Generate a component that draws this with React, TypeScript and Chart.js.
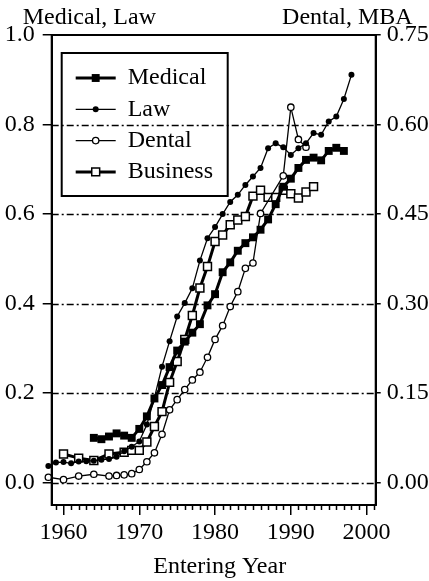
import { useEffect, useRef } from 'react';
import { Chart, registerables } from 'chart.js';

Chart.register(...registerables);

const FONT = "'Liberation Serif', 'Times New Roman', Times, serif";
const FS = 24;

const seriesNames = ['Medical', 'Law', 'Dental', 'Business'];

const medicalYears = [1964, 1965, 1966, 1967, 1968, 1969, 1970, 1971, 1972, 1973, 1974, 1975, 1976, 1977, 1978, 1979, 1980, 1981, 1982, 1983, 1984, 1985, 1986, 1987, 1988, 1989, 1990, 1991, 1992, 1993, 1994, 1995, 1996, 1997];
const medicalShare = [0.10, 0.097, 0.103, 0.11, 0.105, 0.10, 0.12, 0.148, 0.188, 0.218, 0.258, 0.295, 0.315, 0.335, 0.354, 0.396, 0.421, 0.47, 0.492, 0.518, 0.535, 0.548, 0.565, 0.588, 0.622, 0.661, 0.679, 0.703, 0.721, 0.726, 0.72, 0.741, 0.748, 0.741];

const lawYears = [1958, 1959, 1960, 1961, 1962, 1963, 1964, 1965, 1966, 1967, 1968, 1969, 1970, 1971, 1972, 1973, 1974, 1975, 1976, 1977, 1978, 1979, 1980, 1981, 1982, 1983, 1984, 1985, 1986, 1987, 1988, 1989, 1990, 1991, 1992, 1993, 1994, 1995, 1996, 1997, 1998];
const lawShare = [0.037, 0.045, 0.046, 0.043, 0.047, 0.048, 0.049, 0.051, 0.053, 0.058, 0.07, 0.08, 0.092, 0.13, 0.19, 0.259, 0.316, 0.371, 0.401, 0.434, 0.496, 0.546, 0.571, 0.6, 0.627, 0.643, 0.665, 0.684, 0.703, 0.747, 0.758, 0.749, 0.732, 0.747, 0.758, 0.781, 0.777, 0.807, 0.818, 0.857, 0.911];

const dentalYears = [1958, 1960, 1962, 1964, 1966, 1967, 1968, 1969, 1970, 1971, 1972, 1973, 1974, 1975, 1976, 1977, 1978, 1979, 1980, 1981, 1982, 1983, 1984, 1985, 1986, 1989, 1990, 1991, 1992];
const dentalShare = [0.009, 0.005, 0.011, 0.014, 0.011, 0.012, 0.013, 0.015, 0.022, 0.035, 0.05, 0.081, 0.122, 0.139, 0.156, 0.172, 0.185, 0.21, 0.24, 0.263, 0.295, 0.32, 0.359, 0.368, 0.451, 0.514, 0.629, 0.575, 0.562];

const businessYears = [1960, 1962, 1964, 1966, 1968, 1969, 1970, 1971, 1972, 1973, 1974, 1975, 1976, 1977, 1978, 1979, 1980, 1981, 1982, 1983, 1984, 1985, 1986, 1987, 1988, 1989, 1990, 1991, 1992, 1993];
const businessShare = [0.048, 0.041, 0.037, 0.048, 0.051, 0.054, 0.054, 0.068, 0.094, 0.119, 0.168, 0.203, 0.24, 0.28, 0.326, 0.362, 0.404, 0.415, 0.432, 0.44, 0.446, 0.48, 0.49, 0.478, 0.478, 0.49, 0.484, 0.477, 0.487, 0.496];

const xTicks = [1960, 1970, 1980, 1990, 2000];
const leftTicks = [0, 0.2, 0.4, 0.6, 0.8, 1.0];
const rightTicks = [0, 0.15, 0.3, 0.45, 0.6, 0.75];
const leftTitle = 'Medical, Law';
const rightTitle = 'Dental, MBA';
const xTitle = 'Entering Year';

const toPoints = (xs: number[], ys: number[]) => xs.map((x, i) => ({ x, y: ys[i] }));

const drawMarker = (ctx: CanvasRenderingContext2D, ds: any, x: number, y: number) => {
  ctx.save();
  ctx.fillStyle = ds.pointBackgroundColor;
  ctx.strokeStyle = ds.pointBorderColor;
  ctx.lineWidth = ds.pointBorderWidth;
  ctx.beginPath();
  if (ds.pointStyle === 'rect') {
    const s = Math.SQRT1_2 * ds.pointRadius;
    ctx.rect(x - s, y - s, 2 * s, 2 * s);
  } else {
    ctx.arc(x, y, ds.pointRadius, 0, Math.PI * 2);
  }
  ctx.fill();
  if (ds.pointBorderWidth > 0) ctx.stroke();
  ctx.restore();
};

const decorPlugin = {
  id: 'decor',
  beforeDatasetsDraw(chart: any) {
    const { ctx, chartArea: a, scales } = chart;
    const ys = scales.y;
    ctx.save();
    ctx.strokeStyle = '#000';
    ctx.lineWidth = 1.3;
    ctx.setLineDash([7, 3, 2, 3]);
    for (const t of ys.ticks) {
      if (t.value >= ys.max) continue;
      const py = Math.round(ys.getPixelForValue(t.value)) + 0.5;
      ctx.beginPath();
      ctx.moveTo(a.left, py);
      ctx.lineTo(a.right, py);
      ctx.stroke();
    }
    ctx.restore();
  },
  afterDraw(chart: any) {
    const { ctx, chartArea: a, scales } = chart;
    ctx.save();
    ctx.strokeStyle = '#000';
    ctx.lineWidth = 2;
    ctx.strokeRect(a.left, a.top, a.right - a.left, a.bottom - a.top);
    const xs = scales.x;
    ctx.lineWidth = 1.5;
    for (let yr = Math.ceil(xs.min); yr <= Math.floor(xs.max); yr++) {
      if (yr % 10 === 0) continue;
      const px = Math.round(xs.getPixelForValue(yr)) + 0.5;
      ctx.beginPath();
      ctx.moveTo(px, a.bottom);
      ctx.lineTo(px, a.bottom + 5);
      ctx.stroke();
    }
    ctx.fillStyle = '#000';
    ctx.font = `${FS}px ${FONT}`;
    ctx.textBaseline = 'middle';
    ctx.textAlign = 'left';
    ctx.fillText(leftTitle, a.left - 29, 18);
    ctx.textAlign = 'right';
    ctx.fillText(rightTitle, a.right + 37, 18);
    ctx.textAlign = 'center';
    ctx.fillText(xTitle, (a.left + a.right) / 2 + 6, 567);
    const bx = a.left + 10, by = a.top + 18, bw = 166, bh = 143;
    ctx.lineWidth = 2;
    ctx.strokeRect(bx, by, bw, bh);
    chart.data.datasets.forEach((ds: any, i: number) => {
      const cy = by + 25 + i * 31.3;
      const x0 = bx + 14, x1 = bx + 54;
      ctx.save();
      ctx.strokeStyle = '#000';
      ctx.lineWidth = ds.borderWidth;
      ctx.beginPath();
      ctx.moveTo(x0, cy);
      ctx.lineTo(x1, cy);
      ctx.stroke();
      ctx.restore();
      drawMarker(ctx, ds, (x0 + x1) / 2, cy);
      ctx.fillStyle = '#000';
      ctx.textAlign = 'left';
      ctx.textBaseline = 'middle';
      ctx.font = `${FS}px ${FONT}`;
      ctx.fillText(ds.label, bx + 66, cy);
    });
    ctx.restore();
  },
};

export default function App() {
  const ref = useRef<HTMLCanvasElement | null>(null);
  useEffect(() => {
    if (!ref.current) return;
    Chart.defaults.font.family = FONT;
    Chart.defaults.color = '#000';
    const base = { borderColor: '#000', pointBorderColor: '#000', clip: false as any, tension: 0 };
    const chart = new Chart(ref.current, {
      type: 'line',
      data: {
        datasets: [
          { ...base, label: seriesNames[0], data: toPoints(medicalYears, medicalShare), yAxisID: 'y', borderWidth: 3, pointStyle: 'rect', pointRadius: 5.6, pointBackgroundColor: '#000', pointBorderWidth: 0 },
          { ...base, label: seriesNames[1], data: toPoints(lawYears, lawShare), yAxisID: 'y', borderWidth: 1.3, pointStyle: 'circle', pointRadius: 3, pointBackgroundColor: '#000', pointBorderWidth: 0 },
          { ...base, label: seriesNames[2], data: toPoints(dentalYears, dentalShare), yAxisID: 'y1', borderWidth: 1.3, pointStyle: 'circle', pointRadius: 3.2, pointBackgroundColor: '#fff', pointBorderWidth: 1.3 },
          { ...base, label: seriesNames[3], data: toPoints(businessYears, businessShare), yAxisID: 'y1', borderWidth: 3, pointStyle: 'rect', pointRadius: 5.6, pointBackgroundColor: '#fff', pointBorderWidth: 1.5 },
        ] as any,
      },
      options: {
        animation: false,
        responsive: false,
        devicePixelRatio: 1,
        layout: { padding: { top: 35, left: 0, right: 0, bottom: 0 } },
        plugins: { legend: { display: false }, tooltip: { enabled: false } },
        scales: {
          x: {
            type: 'linear',
            min: 1958.44,
            max: 2001.2,
            afterBuildTicks: (s: any) => { s.ticks = xTicks.map((v) => ({ value: v })); },
            afterFit: (s: any) => { s.height = 76; },
            ticks: { font: { size: FS }, color: '#000', padding: 3, maxRotation: 0, autoSkip: false, callback: (v: any) => String(v) },
            grid: { drawOnChartArea: false, drawTicks: true, tickLength: 10, color: '#000', lineWidth: 1.5 },
            border: { color: '#000', width: 2 },
          },
          y: {
            type: 'linear',
            position: 'left',
            min: -0.05,
            max: 1.0,
            afterBuildTicks: (s: any) => { s.ticks = leftTicks.map((v) => ({ value: v })); },
            afterFit: (s: any) => { s.width = 51.7; },
            ticks: { font: { size: FS }, color: '#000', padding: 8, callback: (v: any) => Number(v).toFixed(1) },
            grid: { drawOnChartArea: false, drawTicks: true, tickLength: 9, color: '#000', lineWidth: 1.5 },
            border: { color: '#000', width: 2 },
          },
          y1: {
            type: 'linear',
            position: 'right',
            min: -0.0375,
            max: 0.75,
            afterBuildTicks: (s: any) => { s.ticks = rightTicks.map((v) => ({ value: v })); },
            afterFit: (s: any) => { s.width = 53.3; },
            ticks: { font: { size: FS }, color: '#000', padding: 6, callback: (v: any) => Number(v).toFixed(2) },
            grid: { drawOnChartArea: false, drawTicks: true, tickLength: 5, color: '#000', lineWidth: 1.5 },
            border: { color: '#000', width: 2 },
          },
        },
      } as any,
      plugins: [decorPlugin],
    });
    return () => chart.destroy();
  }, []);
  return (
    <canvas
      ref={ref}
      width={429}
      height={581}
      style={{ position: 'absolute', left: 0, top: 0, width: 429, height: 581, display: 'block', background: '#fff' }}
    />
  );
}
